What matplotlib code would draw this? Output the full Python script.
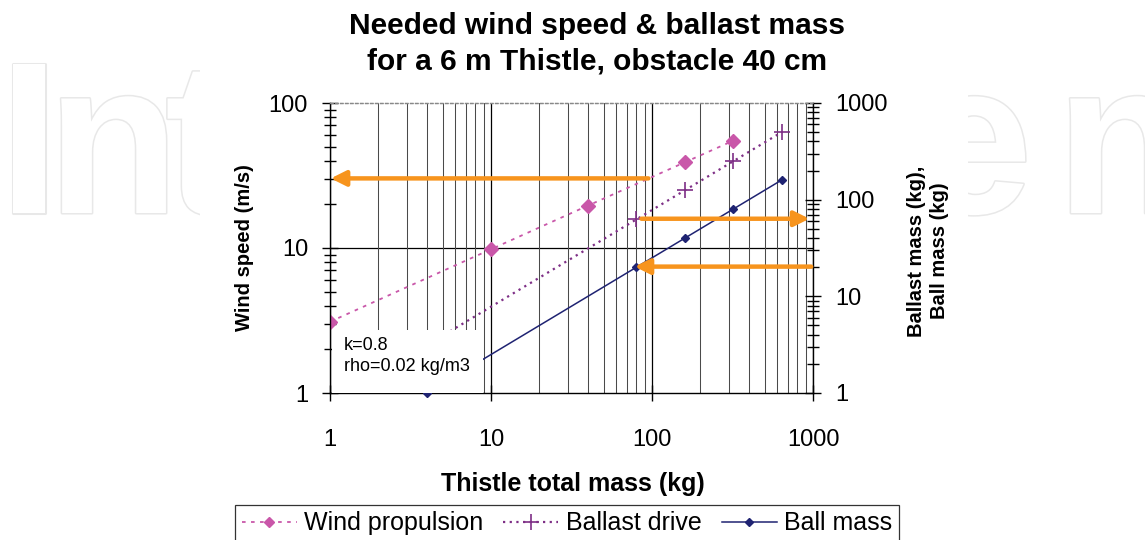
import matplotlib
matplotlib.use('Agg')
import matplotlib.pyplot as plt
import matplotlib.patheffects as pe
from matplotlib.patches import Rectangle
from matplotlib.ticker import LogLocator, NullFormatter, FixedLocator

plt.rcParams['font.family'] = ['Liberation Sans', 'DejaVu Sans']

# data
wind_mass = [1, 10, 40, 160, 320]
wind_speed = [3.1, 9.8, 19.6, 39, 55]

ballast_mass_x = [1, 80, 160, 320, 640]
ballast_mass = [0.78, 62.5, 125, 250, 500]

ball_x = [4, 80, 160, 320, 640]
ball_mass = [1, 20, 40, 80, 160]

x_ticks = [1, 10, 100, 1000]
left_ticks = [1, 10, 100]
right_ticks = [1, 10, 100, 1000]

c_wind = '#C957A9'
c_ballast = '#7E2F86'
c_ball = '#1F2372'
c_arrow = '#F7941D'

fig = plt.figure(figsize=(11.45, 5.4), dpi=100)

# faint watermark behind the chart, partly hidden by the white chart area
wm = dict(fontsize=156, fontweight='bold', color='white', va='baseline', ha='left',
          path_effects=[pe.withStroke(linewidth=2.2, foreground='#e8e8e8')], zorder=-3)
for ch, px in [('I', -1), ('n', 47), ('t', 165), ('e', 912), ('n', 1056)]:
    fig.text(px / 1145, 1 - 213 / 540, ch, **wm)
fig.patches.append(Rectangle((200 / 1145, 0), (968 - 200) / 1145, 1, transform=fig.transFigure,
                             facecolor='white', edgecolor='none', zorder=-2))

ax = fig.add_axes([330 / 1145, 1 - 393 / 540, (813 - 330) / 1145, (393 - 103) / 540])
ax.set_xscale('log')
ax.set_yscale('log')
ax.set_xlim(1, 1000)
ax.set_ylim(1, 100)
ax.set_facecolor('white')

ax2 = ax.twinx()
ax2.set_yscale('log')
ax2.set_ylim(1, 1000)

# grid: vertical lines on every decade step, one horizontal line at 10
ax.xaxis.set_minor_locator(LogLocator(base=10, subs=range(2, 10)))
ax.grid(which='major', axis='x', color='black', lw=0.9)
ax.grid(which='minor', axis='x', color='#4a4a4a', lw=0.75)
ax.axhline(10, color='black', lw=0.9, zorder=0.5)
ax.set_axisbelow(True)

l1, = ax.plot(wind_mass, wind_speed, color=c_wind, ls=(0, (2, 3)), lw=1.3,
              marker='D', ms=7, label='Wind propulsion', zorder=3)
l2, = ax2.plot(ballast_mass_x, ballast_mass, color=c_ballast, ls=(0, (1, 2)), lw=1.6,
               marker='+', ms=11, mew=1.2, label='Ballast drive', zorder=3)
l3, = ax2.plot(ball_x, ball_mass, color=c_ball, ls='-', lw=1.1,
               marker='D', ms=4.5, label='Ball mass', zorder=3, clip_on=False)

# orange reading arrows
arrow = dict(arrowstyle='-|>,head_length=0.9,head_width=0.45', color=c_arrow, lw=3.2,
             shrinkA=0, shrinkB=0)
ax.annotate('', xy=(1.01, 30.2), xytext=(95, 30.2), arrowprops=arrow, zorder=4)
ax2.annotate('', xy=(950, 63.5), xytext=(86, 63.5), arrowprops=arrow, zorder=4)
ax2.annotate('', xy=(78, 20.3), xytext=(975, 20.3), arrowprops=arrow, zorder=4)

# parameter box
ax2.add_patch(Rectangle((0.004, 0.0), 0.313, 0.217, transform=ax2.transAxes,
                        facecolor='white', edgecolor='none', zorder=8))
ax2.text(0.029, 0.128, 'k=0.8\nrho=0.02 kg/m3', transform=ax2.transAxes, fontsize=13,
         va='center', ha='left', linespacing=1.35, zorder=9)

# spines
for a in (ax, ax2):
    a.spines['top'].set_color('#888888')
    a.spines['top'].set_linestyle((0, (2, 2)))
    a.spines['top'].set_linewidth(0.9)
ax.spines['right'].set_visible(False)
ax2.spines['left'].set_visible(False)
ax2.spines['bottom'].set_visible(False)
for s in ('left', 'bottom'):
    ax.spines[s].set_linewidth(1.0)
    ax.spines[s].set_zorder(10)
ax2.spines['right'].set_linewidth(1.0)

# ticks
ax.xaxis.set_major_locator(FixedLocator(x_ticks))
ax.set_xticklabels([str(t) for t in x_ticks])
ax.xaxis.set_minor_formatter(NullFormatter())
ax.tick_params(axis='x', which='major', direction='inout', length=11.5, width=1,
               pad=20, labelsize=17)
ax.tick_params(axis='x', which='minor', length=0)

ax.yaxis.set_major_locator(FixedLocator(left_ticks))
ax.set_yticklabels([str(t) for t in left_ticks])
ax.yaxis.set_minor_locator(LogLocator(base=10, subs=range(2, 10)))
ax.yaxis.set_minor_formatter(NullFormatter())
ax.tick_params(axis='y', which='major', direction='inout', length=11.5, width=1,
               pad=10, labelsize=17)
ax.tick_params(axis='y', which='minor', direction='inout', length=8, width=1)

ax2.yaxis.set_major_locator(FixedLocator(right_ticks))
ax2.set_yticklabels([str(t) for t in right_ticks])
ax2.yaxis.set_minor_locator(LogLocator(base=10, subs=range(2, 10)))
ax2.yaxis.set_minor_formatter(NullFormatter())
ax2.tick_params(axis='y', which='major', direction='inout', length=11.5, width=1,
                pad=10, labelsize=17)
ax2.tick_params(axis='y', which='minor', direction='inout', length=8, width=1)

# labels
fig.text(597 / 1145, 1 - 44 / 540, 'Needed wind speed & ballast mass\nfor a 6 m Thistle, obstacle 40 cm',
         ha='center', va='center', fontsize=21.5, fontweight='bold', linespacing=1.36)
fig.text(573 / 1145, 1 - 484 / 540, 'Thistle total mass (kg)', ha='center', va='center',
         fontsize=18, fontweight='bold')
fig.text(245 / 1145, 1 - 248 / 540, 'Wind speed (m/s)', ha='center', va='center',
         rotation=90, fontsize=14.5, fontweight='bold')
fig.text(928 / 1145, 1 - 251 / 540, 'Ballast mass (kg),\nBall mass (kg)', ha='center', va='center',
         rotation=90, fontsize=14.5, fontweight='bold', linespacing=1.3)

leg = fig.legend(handles=[l1, l2, l3], loc='upper center', bbox_to_anchor=(567 / 1145, 1 - 505 / 540),
                 ncol=3, fontsize=18, frameon=True, fancybox=False, edgecolor='black',
                 handlelength=2.2, handletextpad=0.3, columnspacing=0.8, borderpad=0.25,
                 borderaxespad=0)
leg.get_frame().set_linewidth(0.9)
for h in leg.legend_handles:
    if h.get_marker() == 'D':
        h.set_markersize(h.get_markersize() * 0.8)

fig.savefig('out.png', dpi=100)
